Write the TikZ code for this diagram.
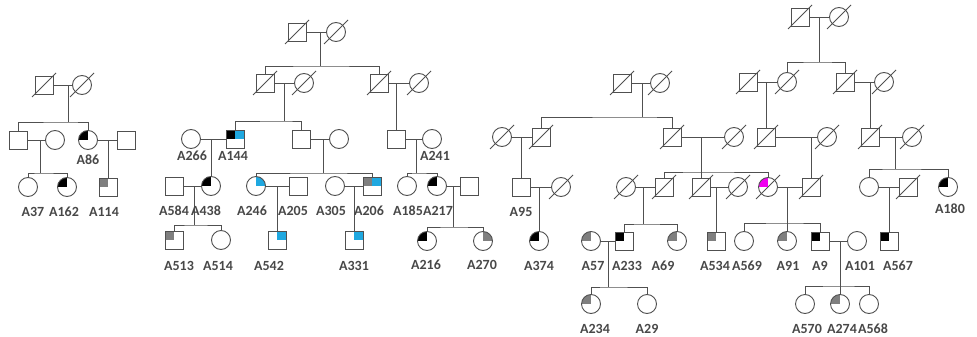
\documentclass[tikz,border=0pt]{standalone}
\usepackage{fontspec}
\setmainfont{Carlito}
\definecolor{ink}{HTML}{505050}
\definecolor{txt}{HTML}{484848}
\definecolor{affgrey}{HTML}{7F7F7F}
\definecolor{affblue}{HTML}{1FA8E0}
\definecolor{affpink}{HTML}{F000F0}
\tikzset{
  person/.style={draw=ink, line width=0.9pt, inner sep=0pt},
  male/.style={person, rectangle, minimum size=18pt},
  female/.style={person, circle, minimum size=19pt},
  dead/.style={append after command={\pgfextra{\draw[ink, line width=0.9pt]
      ([shift={(-12pt,-12pt)}]\tikzlastnode.center) -- ([shift={(12pt,12pt)}]\tikzlastnode.center);}}},
  tl/.style={path picture={\fill[#1] (path picture bounding box.north west) rectangle (path picture bounding box.center);}},
  tr/.style={path picture={\fill[#1] (path picture bounding box.north east) rectangle (path picture bounding box.center);}},
  tlr/.style 2 args={path picture={
      \fill[#1] (path picture bounding box.north west) rectangle (path picture bounding box.center);
      \fill[#2] (path picture bounding box.north east) rectangle (path picture bounding box.center);}},
  pid/.style={font=\fontsize{14}{14}\selectfont\bfseries, text=txt, inner sep=0pt},
  link/.style={draw=ink, line width=0.9pt}
}
\begin{document}
\begin{tikzpicture}[x=1pt, y=-1pt]
\useasboundingbox (0,0) rectangle (977,337);

% first family
\node[male, dead] (a1) at (44,85) {};
\node[female, dead] (a2) at (82,85) {};
\node[male] (a3) at (18,140) {};
\node[female] (a4) at (55,140) {};
\node[female, tl=black] (A86) at (88,140) {};
\node[male] (a5) at (126,140) {};
\node[female] (A37) at (28,187) {};
\node[female, tl=black] (A162) at (67,187) {};
\node[male, tl=affgrey] (A114) at (108,187) {};

\coordinate (ma1) at (68,85);
\coordinate (sa1) at (68,122);
\coordinate (ma2) at (40,140);
\coordinate (sa2) at (40,173);
\coordinate (ma3) at (108,140);

\draw[link] (a1) -- (a2);
\draw[link] (ma1) -- (sa1);
\draw[link] (a3) |- (sa1) -| (A86);
\draw[link] (a3) -- (a4);
\draw[link] (ma2) -- (sa2);
\draw[link] (A37) |- (sa2) -| (A162);
\draw[link] (A86) -- (a5);
\draw[link] (ma3) -- (A114);

\node[pid] (lA86) at (88,160) {A86};
\node[pid] (lA37) at (33,212) {A37};
\node[pid] (lA162) at (64,212) {A162};
\node[pid] (lA114) at (104,212) {A114};

% second family
\node[male, dead] (b1) at (297,32) {};
\node[female, dead] (b2) at (336,32) {};
\node[male, dead] (b3) at (265,83) {};
\node[female, dead] (b4) at (304,83) {};
\node[male, dead] (b5) at (379,83) {};
\node[female, dead] (b6) at (419,83) {};
\node[female] (A266) at (191,139) {};
\node[male, tlr={black}{affblue}] (A144) at (235,139) {};
\node[male] (b7) at (301,139) {};
\node[female] (b8) at (339,139) {};
\node[male] (b9) at (396,139) {};
\node[female] (A241) at (432,139) {};
\node[male] (A584) at (174,186) {};
\node[female, tl=black] (A438) at (211,186) {};
\node[female, tr=affblue] (A246) at (256,186) {};
\node[male] (A205) at (298,186) {};
\node[female] (A305) at (335,186) {};
\node[male, tlr={affgrey}{affblue}] (A206) at (372,186) {};
\node[female] (A185) at (407,186) {};
\node[female, tl=black] (A217) at (437,186) {};
\node[male] (b10) at (469,186) {};
\node[male, tl=affgrey] (A513) at (174,240) {};
\node[female] (A514) at (221,240) {};
\node[male, tr=affblue] (A542) at (277,240) {};
\node[male, tr=affblue] (A331) at (354,240) {};
\node[female, tl=black] (A216) at (427,241) {};
\node[female, tr=affgrey] (A270) at (483,241) {};

\coordinate (mb1) at (320,32);
\coordinate (sb1) at (320,66);
\coordinate (mb2) at (284,83);
\coordinate (sb2) at (284,121);
\coordinate (mb3) at (396,83);
\coordinate (mb4) at (211,139);
\coordinate (mb5) at (323,139);
\coordinate (sb5) at (323,173);
\coordinate (mb6) at (416,139);
\coordinate (sb6) at (416,173);
\coordinate (mb7) at (194,186);
\coordinate (sb7) at (194,225);
\coordinate (mb8) at (277,186);
\coordinate (mb9) at (354,186);
\coordinate (mb10) at (453,186);
\coordinate (sb10) at (453,227);

\draw[link] (b1) -- (b2);
\draw[link] (mb1) -- (sb1);
\draw[link] (b3) |- (sb1) -| (b5);
\draw[link] (b3) -- (b4);
\draw[link] (mb2) -- (sb2);
\draw[link] (A144) |- (sb2) -| (b7);
\draw[link] (b5) -- (b6);
\draw[link] (mb3) -- (b9);
\draw[link] (A266) -- (A144);
\draw[link] (mb4) -- (A438);
\draw[link] (b7) -- (b8);
\draw[link] (mb5) -- (sb5);
\draw[link] (A246) |- (sb5) -| (A206);
\draw[link] (b9) -- (A241);
\draw[link] (mb6) -- (sb6);
\draw[link] (A185) |- (sb6) -| (A217);
\draw[link] (A584) -- (A438);
\draw[link] (mb7) -- (sb7);
\draw[link] (A513) |- (sb7) -| (A514);
\draw[link] (A246) -- (A205);
\draw[link] (mb8) -- (A542);
\draw[link] (A305) -- (A206);
\draw[link] (mb9) -- (A331);
\draw[link] (A217) -- (b10);
\draw[link] (mb10) -- (sb10);
\draw[link] (A216) |- (sb10) -| (A270);

\node[pid] (lA266) at (192,156) {A266};
\node[pid] (lA144) at (233,156) {A144};
\node[pid] (lA241) at (435,156) {A241};
\node[pid] (lA584) at (174,211) {A584};
\node[pid] (lA438) at (206,211) {A438};
\node[pid] (lA246) at (252,211) {A246};
\node[pid] (lA205) at (293,211) {A205};
\node[pid] (lA305) at (331,211) {A305};
\node[pid] (lA206) at (369,211) {A206};
\node[pid] (lA185) at (408,211) {A185};
\node[pid] (lA217) at (438,211) {A217};
\node[pid] (lA513) at (179,266) {A513};
\node[pid] (lA514) at (218,266) {A514};
\node[pid] (lA542) at (269,266) {A542};
\node[pid] (lA331) at (354,266) {A331};
\node[pid] (lA216) at (426,265) {A216};
\node[pid] (lA270) at (482,265) {A270};

% third family
\node[male, dead] (c1) at (622,83) {};
\node[female, dead] (c2) at (660,83) {};
\node[female, dead] (c3) at (502,137) {};
\node[male, dead] (c4) at (541,137) {};
\node[male, dead] (c5) at (672,137) {};
\node[female, dead] (c6) at (734,137) {};
\node[male] (A95) at (521,187) {};
\node[female, dead] (c7) at (561,187) {};
\node[female, dead] (c12) at (626,187) {};
\node[male, dead] (c8) at (664,187) {};
\node[male, dead] (c9) at (701,187) {};
\node[female, dead] (c10) at (738,187) {};
\node[female, dead, tl=affpink] (c11) at (768,187) {};
\node[male, dead] (c16) at (811,187) {};

\node[male, dead] (d1) at (800,17) {};
\node[female, dead] (d2) at (839,17) {};
\node[male, dead] (d3) at (748,82) {};
\node[female, dead] (d4) at (787,82) {};
\node[male, dead] (d5) at (845,82) {};
\node[female, dead] (d6) at (884,82) {};
\node[male, dead] (c13) at (766,137) {};
\node[female, dead] (c14) at (827,137) {};
\node[male, dead] (c15) at (870,137) {};
\node[female, dead] (c17) at (912,137) {};
\node[female] (c18) at (869,187) {};
\node[male, dead] (c19) at (908,187) {};
\node[female, tl=black] (A180) at (948,187) {};

\node[female, tl=black] (A374) at (539,241) {};
\node[female, tl=affgrey] (A57) at (591,241) {};
\node[male, tl=black] (A233) at (624,241) {};
\node[female, tl=affgrey] (A69) at (677,241) {};
\node[male, tl=affgrey] (A534) at (716,241) {};
\node[female] (A569) at (744,241) {};
\node[female, tl=affgrey] (A91) at (787,241) {};
\node[male, tl=black] (A9) at (820,241) {};
\node[female] (A101) at (857,241) {};
\node[male, tl=black] (A567) at (889,241) {};
\node[female, tl=affgrey] (A234) at (591,304) {};
\node[female] (A29) at (647,304) {};
\node[female] (A570) at (805,304) {};
\node[female, tl=affgrey] (A274) at (840,304) {};
\node[female] (A568) at (869,304) {};

\coordinate (mc1) at (642,83);
\coordinate (sc1) at (642,117);
\coordinate (mc2) at (521,137);
\coordinate (mc3) at (701,137);
\coordinate (sc3) at (701,172);
\coordinate (mc4) at (539,187);
\coordinate (mc5) at (643,187);
\coordinate (sc5) at (643,224);
\coordinate (mc6) at (716,187);
\coordinate (mc7) at (787,187);
\coordinate (sc7) at (787,223);
\coordinate (md1) at (819,17);
\coordinate (sd1) at (819,62);
\coordinate (md2) at (766,82);
\coordinate (md3) at (870,82);
\coordinate (mc8) at (811,137);
\coordinate (mc9) at (895,137);
\coordinate (sc9) at (895,169);
\coordinate (mc10) at (889,187);
\coordinate (mc11) at (608,241);
\coordinate (sc11) at (608,287);
\coordinate (mc12) at (840,241);
\coordinate (sc12) at (840,286);

\draw[link] (c1) -- (c2);
\draw[link] (mc1) -- (sc1);
\draw[link] (c4) |- (sc1) -| (c5);
\draw[link] (c3) -- (c4);
\draw[link] (mc2) -- (A95);
\draw[link] (c5) -- (c6);
\draw[link] (mc3) -- (c9);
\draw[link] (c8) |- (sc3) -| (c11);
\draw[link] (A95) -- (c7);
\draw[link] (mc4) -- (A374);
\draw[link] (c12) -- (c8);
\draw[link] (mc5) -- (sc5);
\draw[link] (A233) |- (sc5) -| (A69);
\draw[link] (c9) -- (c10);
\draw[link] (mc6) -- (A534);
\draw[link] (c11) -- (c16);
\draw[link] (mc7) -- (A91);
\draw[link] (A569) |- (sc7) -| (A9);
\draw[link] (d1) -- (d2);
\draw[link] (md1) -- (sd1);
\draw[link] (d4) |- (sd1) -| (d5);
\draw[link] (d3) -- (d4);
\draw[link] (md2) -- (c13);
\draw[link] (d5) -- (d6);
\draw[link] (md3) -- (c15);
\draw[link] (c13) -- (c14);
\draw[link] (mc8) -- (c16);
\draw[link] (c15) -- (c17);
\draw[link] (mc9) -- (sc9);
\draw[link] (c18) |- (sc9) -| (A180);
\draw[link] (c18) -- (c19);
\draw[link] (mc10) -- (A567);
\draw[link] (A57) -- (A233);
\draw[link] (mc11) -- (sc11);
\draw[link] (A234) |- (sc11) -| (A29);
\draw[link] (A9) -- (A101);
\draw[link] (mc12) -- (A274);
\draw[link] (A570) |- (sc12) -| (A568);

\node[pid] (lA95) at (521,212) {A95};
\node[pid] (lA180) at (950,209) {A180};
\node[pid] (lA374) at (539,266) {A374};
\node[pid] (lA57) at (593,266) {A57};
\node[pid] (lA233) at (627,266) {A233};
\node[pid] (lA69) at (663,266) {A69};
\node[pid] (lA534) at (715,266) {A534};
\node[pid] (lA569) at (747,266) {A569};
\node[pid] (lA91) at (788,266) {A91};
\node[pid] (lA9) at (820,266) {A9};
\node[pid] (lA101) at (860,266) {A101};
\node[pid] (lA567) at (898,266) {A567};
\node[pid] (lA234) at (595,329) {A234};
\node[pid] (lA29) at (647,329) {A29};
\node[pid] (lA570) at (807,329) {A570};
\node[pid] (lA274) at (842,329) {A274};
\node[pid] (lA568) at (873,329) {A568};

\end{tikzpicture}
\end{document}
